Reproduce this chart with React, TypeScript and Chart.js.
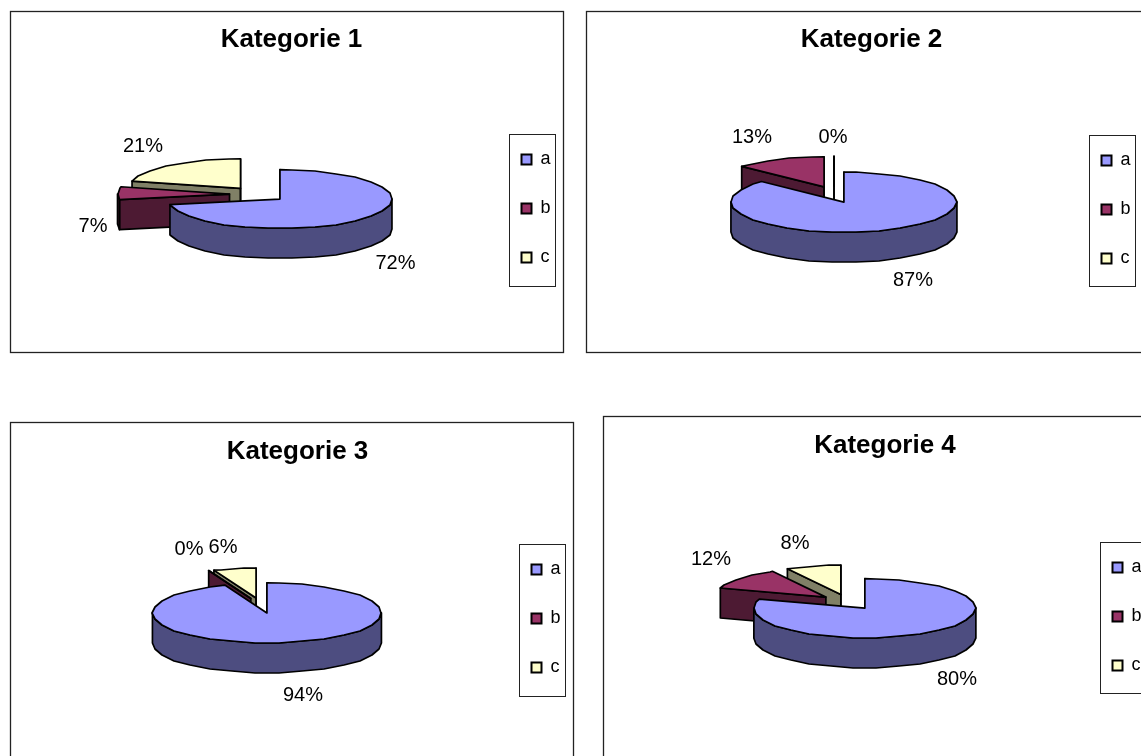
import React, { useEffect, useRef } from "react";
import { Chart, registerables } from "chart.js";

Chart.register(...registerables);

const categories = ["a", "b", "c"];
const titles = ["Kategorie 1", "Kategorie 2", "Kategorie 3", "Kategorie 4"];
const values1 = [72, 7, 21];
const values2 = [87, 13, 0];
const values3 = [94, 0, 6];
const values4 = [80, 12, 8];
const topColors = ["#9999FF", "#993366", "#FFFFCC"];
const sideColors = ["#4D4D80", "#4D1A33", "#808066"];
const FONT = "'Liberation Sans', Arial, sans-serif";

// layout of each chart in page pixels
const layouts = [
  { frame: [10, 11, 553, 341], titleX: 291.5, titleY: 40, centre: [258, 194.3], rx: 112, ry: 29.5, tilt: 0.263, explode: 28.5, legend: [509.5, 134.5, 46, 152], labels: [[395.5, 263], [93, 226], [143, 146]] },
  { frame: [586, 11, 571, 341], titleX: 871.5, titleY: 40, centre: [834, 194.5], rx: 113, ry: 30, tilt: 0.33, explode: 25, legend: [1089.5, 135.5, 46, 151], labels: [[913, 280], [752, 137], [833, 137]] },
  { frame: [10, 422, 563, 341], titleX: 297.5, titleY: 452, centre: [261.5, 605.5], rx: 114.5, ry: 30, tilt: 0.262, explode: 29, legend: [519.5, 544.5, 46, 152], labels: [[303, 695], [189, 549], [223, 547]] },
  { frame: [603, 416, 571, 341], titleX: 885, titleY: 446, centre: [848, 602], rx: 111, ry: 29.5, tilt: 0.266, explode: 28.7, legend: [1100.5, 542.5, 46, 151], labels: [[957, 679], [711, 559], [795, 543]] },
];
const DEPTH = 30;
const ALL_VALUES = [values1, values2, values3, values4];
const LEGEND_PAD = 31;
const STEP = Math.PI / 15;

function rimPoints(cx: number, cy: number, rx: number, ry: number, a0: number, a1: number) {
  const pts: number[][] = [[cx + rx * Math.cos(a0), cy + ry * Math.sin(a0)]];
  let k = Math.floor(a0 / STEP) + 1;
  while (k * STEP < a1 - 1e-6) {
    const a = k * STEP;
    pts.push([Math.round(cx + rx * Math.cos(a)), Math.round(cy + ry * Math.sin(a))]);
    k++;
  }
  if (a1 > a0) pts.push([cx + rx * Math.cos(a1), cy + ry * Math.sin(a1)]);
  return pts;
}

function polygon(ctx: CanvasRenderingContext2D, pts: number[][], fill: string) {
  ctx.beginPath();
  pts.forEach((p, i) => (i ? ctx.lineTo(p[0], p[1]) : ctx.moveTo(p[0], p[1])));
  ctx.closePath();
  ctx.fillStyle = fill;
  ctx.fill();
  ctx.stroke();
}

function makePlugin(layout: any, ox: number, oy: number) {
  return {
    id: "pie3d",
    afterLayout(chart: any) {
      const t = chart.titleBlock;
      t.left = layout.titleX - ox - 200;
      t.right = layout.titleX - ox + 200;
      t.top = layout.titleY - oy - 15.6;
      t.bottom = layout.titleY - oy + 15.6;
      const l = chart.legend;
      const [bx, by, bw, bh] = layout.legend;
      l.left = bx - ox + 12 - LEGEND_PAD;
      l.right = l.left + bw + LEGEND_PAD;
      l.top = by - oy + 16 - LEGEND_PAD;
      l.bottom = l.top + bh + LEGEND_PAD;
    },
    beforeDraw(chart: any) {
      const ctx = chart.ctx;
      const [fx, fy, fw, fh] = layout.frame;
      ctx.save();
      ctx.fillStyle = "#fff";
      ctx.fillRect(0, 0, chart.width, chart.height);
      ctx.strokeStyle = "#222";
      ctx.lineWidth = 1.3;
      ctx.strokeRect(fx - ox + 0.5, fy - oy + 0.5, fw, fh);
      const [bx, by, bw, bh] = layout.legend;
      ctx.lineWidth = 1;
      ctx.strokeRect(bx - ox, by - oy, bw, bh);
      ctx.restore();
    },
    beforeDatasetsDraw(chart: any) {
      const ctx = chart.ctx as CanvasRenderingContext2D;
      const arcs: any[] = chart.getDatasetMeta(0).data;
      const cx0 = layout.centre[0] - ox;
      const cy0 = layout.centre[1] - oy;
      const k = layout.ry / layout.rx;
      const items = arcs.map((arc, i) => {
        const mid = (arc.startAngle + arc.endAngle) / 2;
        const d = arc.options.offset / 2;
        return {
          i,
          arc,
          x: cx0 + d * Math.cos(mid),
          y: cy0 + d * layout.tilt * Math.sin(mid),
        };
      });
      items.sort((p, q) => p.y - q.y);
      ctx.save();
      ctx.strokeStyle = "#000";
      ctx.lineWidth = 1.7;
      ctx.lineJoin = "round";
      for (const { i, arc, x, y } of items) {
        const rx = arc.outerRadius;
        const ry = rx * k;
        const a0 = arc.startAngle;
        const a1 = arc.endAngle;
        const rim = (a: number) => [x + rx * Math.cos(a), y + ry * Math.sin(a)];
        const side = sideColors[i];
        const face = (a: number) => {
          const r = rim(a);
          polygon(ctx, [[x, y], r, [r[0], r[1] + DEPTH], [x, y + DEPTH]], side);
        };
        if (Math.cos(a0) < 1e-6) face(a0);
        if (Math.cos(a1) > -1e-6) face(a1);
        const lo = Math.max(a0, 0);
        const hi = Math.min(a1, Math.PI);
        if (hi > lo) {
          const wall = rimPoints(x, y, rx, ry, lo, hi);
          polygon(ctx, [...wall, ...wall.slice().reverse().map((p) => [p[0], p[1] + DEPTH])], side);
        }
        polygon(ctx, [[x, y], ...(a1 > a0 ? rimPoints(x, y, rx, ry, a0, a1) : [rim(a0)])], arc.options.backgroundColor);
      }
      // percentage labels
      const vals: number[] = chart.data.datasets[0].data;
      const total = vals.reduce((s, v) => s + v, 0);
      ctx.fillStyle = "#000";
      ctx.font = `20px ${FONT}`;
      ctx.textAlign = "center";
      ctx.textBaseline = "middle";
      vals.forEach((v, i) => {
        const [lx, ly] = layout.labels[i];
        ctx.fillText(`${Math.round((v / total) * 100)}%`, lx - ox, ly - oy + 0.5);
      });
      ctx.restore();
      return false;
    },
  };
}

function Pie({ index }: { index: number }) {
  const ref = useRef<HTMLCanvasElement>(null);
  const layout = layouts[index];
  const [ox, oy] = [layout.frame[0] - 2, layout.frame[1] - 2];
  const w = layout.frame[2] + 5;
  const h = layout.frame[3] + 5;
  useEffect(() => {
    const chart = new Chart(ref.current as HTMLCanvasElement, {
      type: "pie",
      data: {
        labels: categories,
        datasets: [
          {
            data: ALL_VALUES[index],
            backgroundColor: topColors,
            borderColor: "#000",
            borderWidth: 0,
            offset: layout.explode * 2,
            radius: layout.rx,
          } as any,
        ],
      },
      options: {
        animation: false,
        responsive: false,
        layout: { padding: 0 },
        plugins: {
          tooltip: { enabled: false },
          title: {
            display: true,
            text: titles[index],
            color: "#000",
            padding: 0,
            font: { family: FONT, size: 26, weight: "bold", lineHeight: 1.2 },
          },
          legend: {
            display: true,
            position: "right",
            align: "start",
            labels: {
              color: "#000",
              boxWidth: 10,
              boxHeight: 10,
              padding: LEGEND_PAD,
              font: { family: FONT, size: 18 },
              generateLabels: (c: any) =>
                c.data.labels.map((text: string, i: number) => ({
                  text,
                  fillStyle: topColors[i],
                  strokeStyle: "#000",
                  lineWidth: 2,
                  hidden: false,
                  index: i,
                })),
            },
          },
        },
      },
      plugins: [makePlugin(layout, ox, oy)],
    } as any);
    return () => chart.destroy();
  }, []);
  return (
    <canvas
      ref={ref}
      width={w}
      height={h}
      style={{ position: "absolute", left: ox, top: oy, width: w, height: h, display: "block" }}
    />
  );
}

export default function App() {
  return (
    <div style={{ position: "fixed", left: 0, top: 0, width: 1141, height: 756, overflow: "hidden", background: "#fff" }}>
      {titles.map((_, i) => (
        <Pie key={i} index={i} />
      ))}
    </div>
  );
}
